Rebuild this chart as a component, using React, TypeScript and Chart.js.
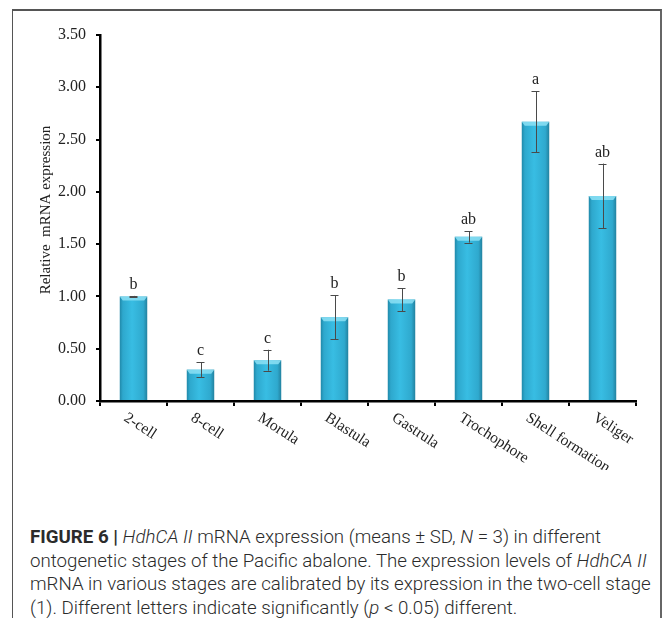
import React, { useEffect, useRef } from "react";
import { Chart, registerables } from "chart.js";

Chart.register(...registerables);

const categories = ["2-cell", "8-cell", "Morula", "Blastula", "Gastrula", "Trochophore", "Shell formation", "Veliger"];
const means = [1.0, 0.3, 0.39, 0.8, 0.97, 1.57, 2.67, 1.96];
const sds = [0.005, 0.07, 0.1, 0.21, 0.11, 0.055, 0.29, 0.31];
const letters = ["b", "c", "c", "b", "b", "ab", "a", "ab"];
const yTicks = [0, 0.5, 1.0, 1.5, 2.0, 2.5, 3.0, 3.5];

const SERIF = "'Liberation Serif', 'Times New Roman', serif";

const overlay = {
  id: "overlay",
  afterDatasetsDraw(chart: any) {
    const ctx = chart.ctx;
    const meta = chart.getDatasetMeta(0);
    const y = chart.scales.y;
    const x = chart.scales.x;
    ctx.save();
    meta.data.forEach((bar: any) => {
      const l = bar.x - bar.width / 2;
      const r = bar.x + bar.width / 2;
      const t = bar.y;
      ctx.fillStyle = "rgba(140,225,245,0.85)";
      ctx.beginPath();
      ctx.moveTo(l, t);
      ctx.lineTo(r, t);
      ctx.lineTo(r - 3, t + 4);
      ctx.lineTo(l + 3, t + 4);
      ctx.closePath();
      ctx.fill();
    });
    meta.data.forEach((bar: any, i: number) => {
      const cx = bar.x;
      const top = y.getPixelForValue(means[i] + sds[i]);
      const bot = y.getPixelForValue(means[i] - sds[i]);
      ctx.strokeStyle = "#4a4a4a";
      ctx.lineWidth = 1;
      ctx.beginPath();
      ctx.moveTo(Math.round(cx) + 0.5, top);
      ctx.lineTo(Math.round(cx) + 0.5, bot);
      ctx.moveTo(cx - 4, Math.round(top) + 0.5);
      ctx.lineTo(cx + 4, Math.round(top) + 0.5);
      ctx.moveTo(cx - 4, Math.round(bot) + 0.5);
      ctx.lineTo(cx + 4, Math.round(bot) + 0.5);
      ctx.stroke();
      ctx.fillStyle = "#222";
      ctx.font = `16px ${SERIF}`;
      ctx.textAlign = "center";
      ctx.textBaseline = "alphabetic";
      ctx.fillText(letters[i], cx, top - 7);
    });
    categories.forEach((c, i) => {
      const cx = x.getPixelForValue(i);
      ctx.save();
      ctx.translate(cx - 4, y.bottom + 9);
      ctx.rotate((33 * Math.PI) / 180);
      ctx.font = `15.5px ${SERIF}`;
      ctx.fillStyle = "#222";
      ctx.textAlign = "left";
      ctx.textBaseline = "top";
      ctx.fillText(c, 0, 0);
      ctx.restore();
    });
    ctx.save();
    ctx.translate(46, 210);
    ctx.rotate(-Math.PI / 2);
    ctx.font = `15px ${SERIF}`;
    ctx.fillStyle = "#222";
    ctx.textAlign = "center";
    ctx.textBaseline = "middle";
    ctx.fillText("Relative  mRNA expression", 0, 0);
    ctx.restore();
    ctx.restore();
  },
};

export default function App() {
  const ref = useRef<HTMLCanvasElement>(null);
  useEffect(() => {
    if (!ref.current) return;
    const chart = new Chart(ref.current, {
      type: "bar",
      data: {
        labels: categories,
        datasets: [
          {
            data: means,
            barPercentage: 0.41,
            categoryPercentage: 1,
            borderWidth: 0,
            backgroundColor: (c: any) => {
              const ch = c.chart;
              const xs = ch.scales && ch.scales.x;
              if (!xs || !ch.chartArea) return "#34b0d4";
              const cx = xs.getPixelForValue(c.dataIndex);
              const w = 28;
              const g = ch.ctx.createLinearGradient(cx - w / 2, 0, cx + w / 2, 0);
              g.addColorStop(0, "#1f86a6");
              g.addColorStop(0.12, "#2ea8cd");
              g.addColorStop(0.45, "#38bde3");
              g.addColorStop(0.85, "#2fa9ce");
              g.addColorStop(1, "#227f9c");
              return g;
            },
          },
        ],
      },
      options: {
        animation: false,
        responsive: false,
        events: [],
        layout: { padding: { left: 0, right: 36, top: 35, bottom: 0 } },
        plugins: { legend: { display: false }, tooltip: { enabled: false } },
        scales: {
          x: {
            offset: true,
            grid: {
              display: true,
              offset: true,
              drawOnChartArea: false,
              drawTicks: true,
              tickLength: 5,
              color: "#000",
              lineWidth: 2,
            },
            border: { display: true, color: "#000", width: 2.5 },
            ticks: { display: false },
            afterFit: (s: any) => {
              s.height = 69;
            },
          },
          y: {
            min: 0,
            max: 3.5,
            afterBuildTicks: (s: any) => {
              s.ticks = yTicks.map((v) => ({ value: v }));
            },
            grid: {
              display: true,
              drawOnChartArea: false,
              drawTicks: true,
              tickLength: 4,
              color: "#000",
              lineWidth: 2,
            },
            border: { display: true, color: "#000", width: 2.5 },
            ticks: {
              padding: 10,
              color: "#222",
              font: { family: SERIF, size: 16 },
              callback: (v: any) => Number(v).toFixed(2),
            },
            afterFit: (s: any) => {
              s.width = 100;
            },
          },
        },
      },
      plugins: [overlay],
    });
    return () => chart.destroy();
  }, []);

  const capStyle: React.CSSProperties = {
    position: "absolute",
    left: 30,
    top: 526,
    fontFamily: "Roboto, 'Liberation Sans', sans-serif",
    fontWeight: 300,
    fontSize: 18.7,
    lineHeight: "23.7px",
    color: "#2b2b2b",
    whiteSpace: "nowrap",
  };

  return (
    <div style={{ position: "absolute", left: 0, top: 0, width: 672, height: 618, overflow: "hidden", background: "#fff" }}>
      <div
        style={{
          position: "absolute",
          left: 12,
          top: 9,
          width: 650,
          height: 640,
          borderTop: "2px solid #555",
          borderLeft: "1.5px solid #555",
          borderRight: "2px solid #666",
          boxSizing: "border-box",
        }}
      />
      <canvas ref={ref} width={672} height={470} style={{ position: "absolute", left: 0, top: 0, width: 672, height: 470 }} />
      <div style={capStyle}>
        <div>
          <b style={{ fontWeight: 700 }}>FIGURE 6 |</b> <i>HdhCA II</i> mRNA expression (means ± SD, <i>N</i> = 3) in different
        </div>
        <div>
          ontogenetic stages of the Pacific abalone. The expression levels of <i>HdhCA II</i>
        </div>
        <div>mRNA in various stages are calibrated by its expression in the two-cell stage</div>
        <div>
          (1). Different letters indicate significantly (<i>p</i> &lt; 0.05) different.
        </div>
      </div>
    </div>
  );
}
